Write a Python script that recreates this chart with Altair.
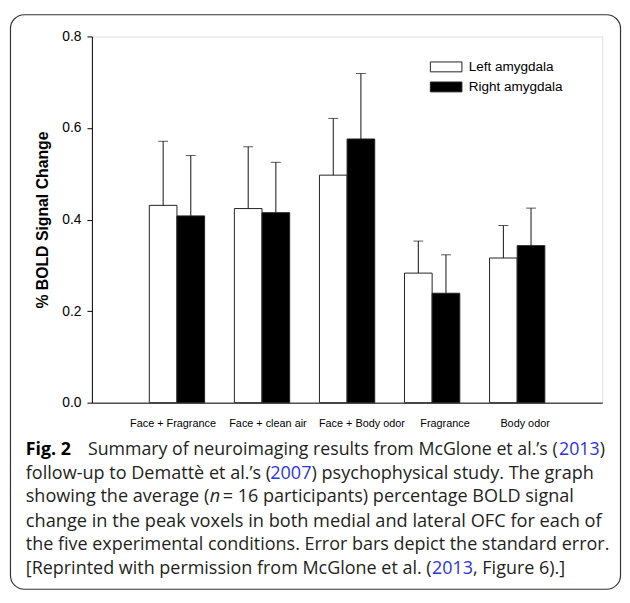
import json
import altair as alt
import pandas as pd

# ---------------- data ----------------
conditions = ["Face + Fragrance", "Face + clean air", "Face + Body odor", "Fragrance", "Body odor"]
series = ["Left amygdala", "Right amygdala"]
left_mean = [0.431, 0.424, 0.497, 0.283, 0.316]
left_se = [0.140, 0.135, 0.124, 0.070, 0.071]
right_mean = [0.408, 0.415, 0.576, 0.239, 0.343]
right_se = [0.132, 0.110, 0.143, 0.084, 0.082]
y_ticks = [0.0, 0.2, 0.4, 0.6, 0.8]

rows = []
for i, c in enumerate(conditions):
    rows.append({"cond": c, "side": series[0], "mean": left_mean[i],
                 "upper": left_mean[i] + left_se[i]})
    rows.append({"cond": c, "side": series[1], "mean": right_mean[i],
                 "upper": right_mean[i] + right_se[i]})
df = pd.DataFrame(rows)
one = pd.DataFrame({"k": [0]})

# ---------------- layout helpers ----------------
OX, OY = 93, 33          # plot-area origin on the page
W, H = 517, 371
FONT = "Liberation Sans"
CAP_FONT = "Open Sans"
DARK = "#231f20"
BLUE = "#2b35d8"


def px(x):
    return x - OX


def py(y):
    return y - OY


# per-label horizontal nudges (the original labels are not centred exactly)
label_nudge = [-4, 6, 15, 13, 8]
label_offset = {
    "condition": [{"test": "datum.value === " + json.dumps(c), "value": s}
                  for c, s in zip(conditions, label_nudge)],
    "value": 0,
}

x_enc = alt.X("cond:N", sort=conditions,
              scale=alt.Scale(paddingInner=0.35, paddingOuter=0.675),
              axis=alt.Axis(title=None, ticks=False, tickSize=0, labelAngle=0,
                            labelFont=FONT, labelFontSize=11, labelColor="black",
                            labelPadding=15, domainColor="black", domainWidth=1,
                            labelOffset=label_offset, grid=False))
xo_enc = alt.XOffset("side:N", sort=series,
                     scale=alt.Scale(paddingInner=0, paddingOuter=0))
y_scale = alt.Scale(domain=[0, 0.8], nice=False)

bars = alt.Chart(df).mark_bar(stroke="#222222", strokeWidth=1).encode(
    x=x_enc,
    xOffset=xo_enc,
    y=alt.Y("mean:Q", scale=y_scale,
            axis=alt.Axis(values=y_ticks, format=".1f", grid=False,
                          tickSize=5, tickColor="black", domainColor="black",
                          labelFont=FONT, labelFontSize=14, labelColor="black",
                          labelPadding=6, title="% BOLD Signal Change",
                          titleFont=FONT, titleFontSize=16, titleFontWeight="bold",
                          titleColor="black", titlePadding=12)),
    fill=alt.Fill("side:N", scale=alt.Scale(domain=series, range=["white", "black"]),
                  legend=alt.Legend(orient="none", legendX=352, legendY=24,
                                    title=None, padding=0,
                                    symbolType="M-3.2,-1H3.2V1H-3.2Z",
                                    symbolSize=100, symbolStrokeColor="#222222",
                                    symbolStrokeWidth=1, labelFont=FONT,
                                    labelFontSize=13.7, labelColor="black",
                                    labelOffset=16, rowPadding=5.3)),
)

whisk = alt.Chart(df).mark_rule(color="#111111", strokeWidth=1).encode(
    x=alt.X("cond:N", sort=conditions),
    xOffset=alt.XOffset("side:N", sort=series),
    y=alt.Y("mean:Q"),
    y2="upper:Q",
)

caps = alt.Chart(df).mark_tick(color="#111111", thickness=1, size=10,
                               orient="horizontal").encode(
    x=alt.X("cond:N", sort=conditions),
    xOffset=alt.XOffset("side:N", sort=series),
    y=alt.Y("upper:Q"),
)

# ---------------- frame and caption ----------------
frame = alt.Chart(one).mark_rect(fill="white", fillOpacity=0, stroke="#333333",
                                 strokeWidth=1.2, cornerRadius=14).encode(
    x=alt.value(px(10.5)), x2=alt.value(px(628.5)),
    y=alt.value(py(11)), y2=alt.value(py(593)),
)

caption = [
    # (text, page x, page baseline, kind, font size)
    ("Fig. 2", 26, 456.5, "bold", 18.0),
    ("Summary of neuroimaging results from McGlone et al.\u2019s (", 89, 456.5, "text", 18.0),
    ("2013", 566.2, 456.5, "link", 18.0),
    (")", 607.4, 456.5, "text", 18.0),
    ("follow-up to Dematt\u00e8 et al.\u2019s (", 26, 481, "text", 18.3),
    ("2007", 273.6, 481, "link", 18.3),
    (") psychophysical study. The graph", 315.5, 481, "text", 18.3),
    ("showing the average (", 26, 505, "text", 18.3),
    ("n", 212.5, 505, "italic", 18.3),
    (" = 16 participants) percentage BOLD signal", 225.5, 505, "text", 18.3),
    ("change in the peak voxels in both medial and lateral OFC for each of", 26, 529.5, "text", 18.45),
    ("the five experimental conditions. Error bars depict the standard error.", 26, 553.5, "text", 18.2),
    ("[Reprinted with permission from McGlone et al. (", 26, 578, "text", 18.2),
    ("2013", 437.5, 578, "link", 18.2),
    (", Figure 6).]", 479.1, 578, "text", 18.2),
]

cap_layers = []
for text, x, y, kind, fs in caption:
    kw = dict(text=text, align="left", baseline="alphabetic", font=CAP_FONT,
              fontSize=fs, color=DARK)
    if kind == "bold":
        kw["fontWeight"] = "bold"
        kw["color"] = "black"
    elif kind == "italic":
        kw["fontStyle"] = "italic"
    elif kind == "link":
        kw["color"] = BLUE
    cap_layers.append(alt.Chart(one).mark_text(**kw).encode(
        x=alt.value(px(x)), y=alt.value(py(y))))

chart = alt.layer(bars, whisk, caps, frame, *cap_layers).properties(
    width=W, height=H,
    padding={"left": OX - 8, "top": OY - 8, "right": 622 - (OX - 8) - W,
             "bottom": 586 - (OY - 8) - H},
    autosize=alt.AutoSizeParams(type="none"),
).configure_view(stroke=None).configure(background="white")

chart.save("out.html", embed_options={"renderer": "svg", "actions": False})
